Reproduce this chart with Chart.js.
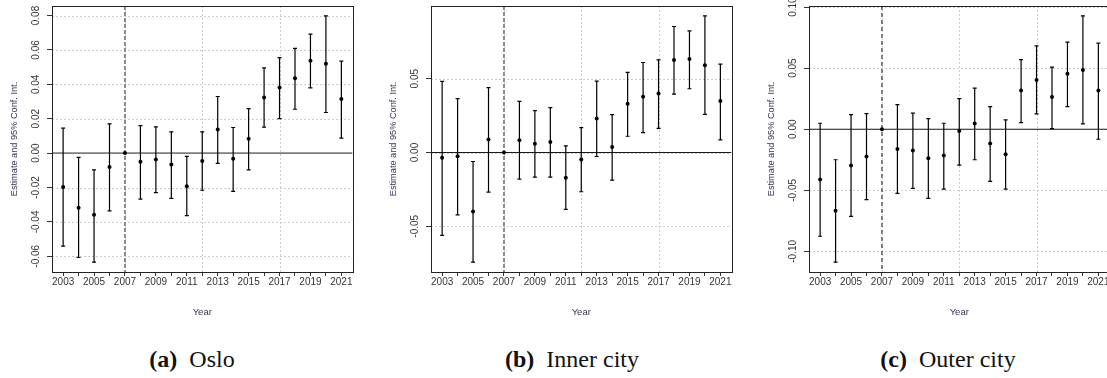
<!DOCTYPE html>
<html>
<head>
<meta charset="utf-8">
<script src="https://cdn.jsdelivr.net/npm/chart.js@4.4.1/dist/chart.umd.min.js"></script>
<style>
  html, body { margin: 0; padding: 0; background: #fff; width: 1107px; height: 378px; overflow: hidden; position: relative; }
  .panel { position: absolute; top: 0; width: 363px; height: 330px; }
  .cap { position: absolute; top: 347px; width: 300px; text-align: center; font-family: "Liberation Serif", "Times New Roman", serif;
         font-size: 24px; line-height: 24px; color: #111; white-space: nowrap; }
  .cap b { font-weight: bold; }
</style>
</head>
<body>
<div class="panel" style="left:0px"><canvas id="chartOslo" width="363" height="330"></canvas></div>
<div class="panel" style="left:378.5px"><canvas id="chartInner" width="363" height="330"></canvas></div>
<div class="panel" style="left:757px"><canvas id="chartOuter" width="363" height="330"></canvas></div>
<div class="cap" style="left:42px"><b>(a)</b>&nbsp; Oslo</div>
<div class="cap" style="left:422px"><b>(b)</b>&nbsp; Inner city</div>
<div class="cap" style="left:798px"><b>(c)</b>&nbsp; Outer city</div>

<script>
// Event-study estimates by year, relative to 2007, with 95% confidence bounds
const years = [2003, 2004, 2005, 2006, 2007, 2008, 2009, 2010, 2011, 2012,
               2013, 2014, 2015, 2016, 2017, 2018, 2019, 2020, 2021];
const referenceYear = 2007;
const gridYears = [2007, 2012, 2017];

const osloEst  = [-0.0197, -0.0317, -0.0359, -0.0081, 0, -0.0050, -0.0037, -0.0066, -0.0193, -0.0046,
                   0.0137, -0.0033,  0.0083,  0.0323, 0.0381, 0.0435, 0.0537, 0.0520, 0.0315];
const osloLow  = [-0.0541, -0.0607, -0.0634, -0.0336, 0, -0.0267, -0.0230, -0.0263, -0.0363, -0.0216,
                  -0.0060, -0.0222, -0.0097,  0.0151, 0.0201, 0.0255, 0.0379, 0.0236, 0.0087];
const osloHigh = [ 0.0145, -0.0025, -0.0097,  0.0170, 0,  0.0160,  0.0153,  0.0124, -0.0019,  0.0124,
                   0.0329,  0.0149,  0.0259,  0.0495, 0.0555, 0.0609, 0.0692, 0.0798, 0.0535];

const innerEst  = [-0.0036, -0.0025, -0.0399,  0.0088, 0,  0.0083,  0.0059,  0.0072, -0.0171, -0.0047,
                    0.0230,  0.0038,  0.0331,  0.0378, 0.0399, 0.0626, 0.0633, 0.0592, 0.0349];
const innerLow  = [-0.0561, -0.0423, -0.0743, -0.0268, 0, -0.0180, -0.0167, -0.0167, -0.0385, -0.0266,
                   -0.0027, -0.0187,  0.0110,  0.0135, 0.0164, 0.0396, 0.0432, 0.0259, 0.0086];
const innerHigh = [ 0.0482,  0.0365, -0.0061,  0.0439, 0,  0.0347,  0.0284,  0.0304,  0.0045,  0.0169,
                    0.0484,  0.0257,  0.0543,  0.0610, 0.0628, 0.0854, 0.0824, 0.0926, 0.0599];

const outerEst  = [-0.0411, -0.0667, -0.0297, -0.0223, 0, -0.0161, -0.0174, -0.0237, -0.0215, -0.0014,
                    0.0046, -0.0117, -0.0204,  0.0316, 0.0403, 0.0264, 0.0454, 0.0484, 0.0316];
const outerLow  = [-0.0876, -0.1088, -0.0713, -0.0577, 0, -0.0525, -0.0484, -0.0566, -0.0490, -0.0294,
                   -0.0250, -0.0427, -0.0490,  0.0054, 0.0125, 0.0005, 0.0185, 0.0044, -0.0082];
const outerHigh = [ 0.0049, -0.0250,  0.0120,  0.0128, 0,  0.0201,  0.0131,  0.0087,  0.0049,  0.0250,
                    0.0337,  0.0185,  0.0076,  0.0569, 0.0683, 0.0509, 0.0713, 0.0928, 0.0705];

const TICK_FONT = { family: '"Liberation Sans", Arial, sans-serif', size: 10 };
const TITLE_FONT = { family: '"Liberation Sans", Arial, sans-serif', size: 9.2 };
const TEXT_COLOR = '#333';
const TITLE_COLOR = '#3a3550';

function strokeLine(ctx, x1, y1, x2, y2) {
  ctx.beginPath(); ctx.moveTo(x1, y1); ctx.lineTo(x2, y2); ctx.stroke();
}

// Grid, reference lines, confidence intervals, frame and rotated y labels
function makeDecorations(panel) {
  return {
    id: 'decorations',
    beforeDatasetsDraw(chart) {
      const { ctx, chartArea: a, scales: { x, y } } = chart;
      ctx.save();
      ctx.beginPath(); ctx.rect(a.left, a.top, a.right - a.left, a.bottom - a.top); ctx.clip();

      ctx.strokeStyle = '#cccccc'; ctx.lineWidth = 1; ctx.setLineDash([2, 2]);
      y.ticks.forEach(t => {
        const py = Math.round(y.getPixelForValue(t.value)) + 0.5;
        strokeLine(ctx, a.left, py, a.right, py);
      });
      gridYears.forEach(v => {
        const px = Math.round(x.getPixelForValue(v)) + 0.5;
        strokeLine(ctx, px, a.top, px, a.bottom);
      });

      ctx.setLineDash([]);
      ctx.strokeStyle = panel.zeroColor; ctx.lineWidth = panel.zeroWidth;
      const py0 = y.getPixelForValue(0);
      strokeLine(ctx, a.left, py0, a.right, py0);

      ctx.strokeStyle = panel.refColor; ctx.lineWidth = panel.refWidth; ctx.setLineDash(panel.refDash);
      const pxr = x.getPixelForValue(referenceYear);
      strokeLine(ctx, pxr, a.top, pxr, a.bottom);

      ctx.setLineDash([]);
      ctx.strokeStyle = '#000'; ctx.lineWidth = 1.2;
      years.forEach((yr, i) => {
        if (panel.low[i] === panel.high[i]) return;
        const px = x.getPixelForValue(yr);
        const pl = y.getPixelForValue(panel.low[i]);
        const ph = y.getPixelForValue(panel.high[i]);
        strokeLine(ctx, px, pl, px, ph);
        strokeLine(ctx, px - 2, pl, px + 2, pl);
        strokeLine(ctx, px - 2, ph, px + 2, ph);
      });
      ctx.restore();
    },
    afterDraw(chart) {
      const { ctx, chartArea: a, scales: { y } } = chart;
      ctx.save();
      ctx.strokeStyle = '#222'; ctx.lineWidth = 1;
      ctx.strokeRect(Math.round(a.left) + 0.5, Math.round(a.top) + 0.5,
                     Math.round(a.right - a.left), Math.round(a.bottom - a.top));
      ctx.fillStyle = TEXT_COLOR;
      ctx.font = TICK_FONT.size + 'px ' + TICK_FONT.family;
      ctx.textAlign = 'center'; ctx.textBaseline = 'middle';
      y.ticks.forEach(t => {
        const py = y.getPixelForValue(t.value);
        ctx.save();
        ctx.translate(a.left - 15.5, py);
        ctx.rotate(-Math.PI / 2);
        ctx.fillText(t.value.toFixed(2), 0, 0);
        ctx.restore();
      });
      ctx.restore();
    }
  };
}

function drawPanel(canvasId, panel) {
  const lo = Math.min(...panel.low), hi = Math.max(...panel.high);
  const pad = 0.04 * (hi - lo);
  const xPad = 0.04 * (years[years.length - 1] - years[0]);
  const plotWidth = 300.5;

  new Chart(document.getElementById(canvasId), {
    type: 'scatter',
    data: {
      datasets: [{
        data: years.map((yr, i) => ({ x: yr, y: panel.est[i] })),
        pointRadius: 2,
        pointBackgroundColor: '#000',
        pointBorderWidth: 0
      }]
    },
    options: {
      responsive: false,
      animation: false,
      events: [],
      devicePixelRatio: 1,
      layout: { autoPadding: false, padding: { top: 6, left: 0, bottom: 0, right: 363 - 52 - plotWidth } },
      plugins: { legend: { display: false }, tooltip: { enabled: false } },
      scales: {
        x: {
          type: 'linear',
          min: years[0] - xPad,
          max: years[years.length - 1] + xPad,
          afterBuildTicks: s => { s.ticks = years.map(v => ({ value: v })); },
          afterFit: s => { s.height = 58; },
          ticks: {
            autoSkip: false, maxRotation: 0, minRotation: 0, padding: 0,
            font: TICK_FONT, color: TEXT_COLOR,
            callback: v => ((v - years[0]) % 2 === 0 ? String(v) : '')
          },
          grid: { drawOnChartArea: false, drawTicks: true, tickLength: 4, color: '#333', tickColor: '#333' },
          border: { display: false },
          title: { display: true, text: 'Year', font: { family: TITLE_FONT.family, size: 9.5 }, color: TITLE_COLOR,
                   padding: { top: 0, bottom: 12.3 } }
        },
        y: {
          type: 'linear',
          min: lo - pad,
          max: hi + pad,
          afterFit: s => { s.width = 52; },
          ticks: { stepSize: panel.step, includeBounds: false, display: false },
          grid: { drawOnChartArea: false, drawTicks: true, tickLength: 5, color: '#333', tickColor: '#333' },
          border: { display: false },
          title: { display: true, text: 'Estimate and 95% Conf. Int.', font: TITLE_FONT, color: TITLE_COLOR,
                   padding: { top: 8.5, bottom: 0 } }
        }
      }
    },
    plugins: [makeDecorations(panel)]
  });
}

drawPanel('chartOslo', {
  est: osloEst, low: osloLow, high: osloHigh, step: 0.02,
  zeroColor: '#7d7d7d', zeroWidth: 1.8, refColor: '#8c8c8c', refWidth: 2, refDash: [4, 2]
});
drawPanel('chartInner', {
  est: innerEst, low: innerLow, high: innerHigh, step: 0.05,
  zeroColor: '#1a1a1a', zeroWidth: 1.1, refColor: '#8c8c8c', refWidth: 2, refDash: [4, 2]
});
drawPanel('chartOuter', {
  est: outerEst, low: outerLow, high: outerHigh, step: 0.05,
  zeroColor: '#1a1a1a', zeroWidth: 1.1, refColor: '#111', refWidth: 1, refDash: [4, 3]
});
</script>
</body>
</html>
